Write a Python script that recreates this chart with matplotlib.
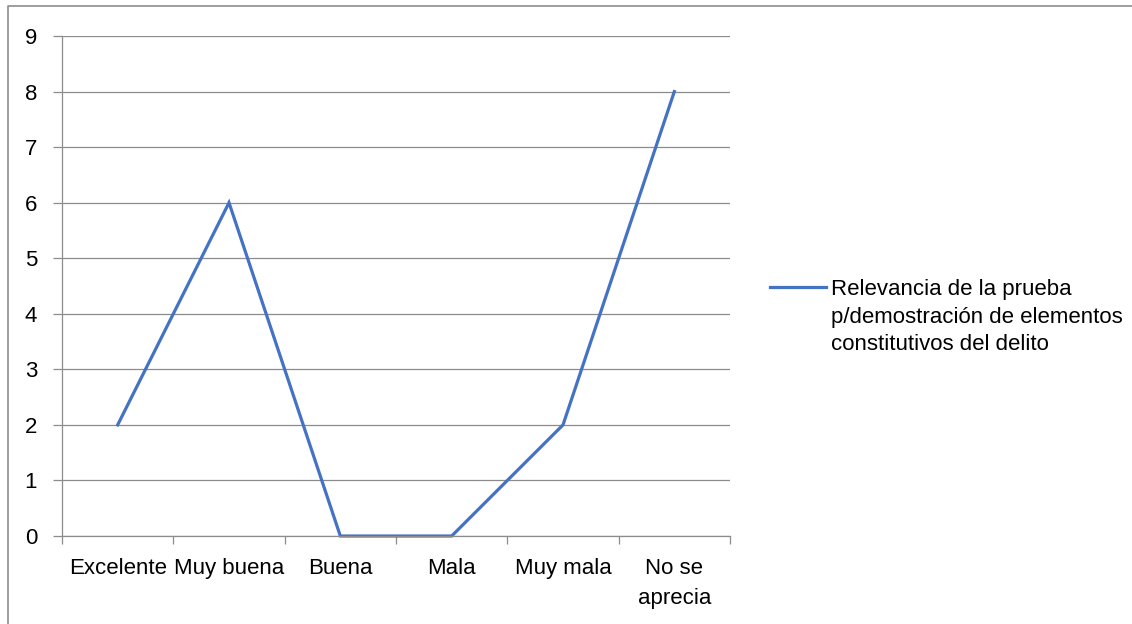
import matplotlib
matplotlib.use("Agg")
import matplotlib.pyplot as plt
from matplotlib.lines import Line2D
from matplotlib.legend_handler import HandlerLine2D

categories = ["Excelente", "Muy buena", "Buena", "Mala", "Muy mala", "No se\naprecia"]
values = [2, 6, 0, 0, 2, 8]
series_name = "Relevancia de la prueba\np/demostración de elementos\nconstitutivos del delito"
yticks = list(range(0, 10))

plt.rcParams['font.family'] = ['Liberation Sans', 'DejaVu Sans']
FS = 16

fig = plt.figure(figsize=(11.32, 6.24), dpi=100)
ax = fig.add_axes([62/1132, 88/624, (730-62)/1132, (536-36)/624])

x = list(range(len(categories)))
line, = ax.plot(x, values, color="#4472C4", lw=2.3, solid_joinstyle="miter",
                label=series_name, clip_on=False)

ax.set_xlim(-0.5, len(categories) - 0.5)
ax.set_ylim(0, 9)
ax.set_yticks(yticks)
ax.set_yticklabels([str(t) for t in yticks], fontsize=FS)
ax.yaxis.grid(True, color="#8c8c8c", lw=0.9)
ax.set_axisbelow(True)

ax.set_xticks(x)
ax.set_xticklabels(categories, fontsize=FS, linespacing=1.52)
ax.set_xticks([i - 0.5 for i in range(len(categories) + 1)], minor=True)
ax.tick_params(axis='x', which='major', length=0, pad=16)
ax.tick_params(axis='x', which='minor', length=6, color="#8c8c8c", width=0.9, direction='out')
ax.tick_params(axis='y', length=6.5, color="#8c8c8c", width=0.9, pad=11.5)

for s in ["top", "right"]:
    ax.spines[s].set_visible(False)
for s in ["left", "bottom"]:
    ax.spines[s].set_color("#8c8c8c")
    ax.spines[s].set_linewidth(0.9)


class TopLineHandler(HandlerLine2D):
    def __init__(self, shift, **kw):
        super().__init__(**kw)
        self.shift = shift

    def create_artists(self, legend, orig_handle, xdescent, ydescent, width, height, fontsize, trans):
        return super().create_artists(legend, orig_handle, xdescent, ydescent - self.shift,
                                      width, height, fontsize, trans)


shift_pts = 44.5
leg = fig.legend(handles=[line], labels=[series_name], loc="upper left",
                 bbox_to_anchor=(770/1132, 1 - 279/624), frameon=False,
                 fontsize=FS, handlelength=2.5, handletextpad=0.25, borderpad=0,
                 borderaxespad=0,
                 handler_map={line: TopLineHandler(shift_pts)})
for t in leg.get_texts():
    t.set_linespacing(1.42)

# outer frame
fig.add_artist(Line2D([8/1132, 8/1132, 1.0], [0.0, 1 - 6/624, 1 - 6/624],
                      transform=fig.transFigure, color="#8c8c8c", lw=1.2))

fig.savefig("out.png", dpi=100)
